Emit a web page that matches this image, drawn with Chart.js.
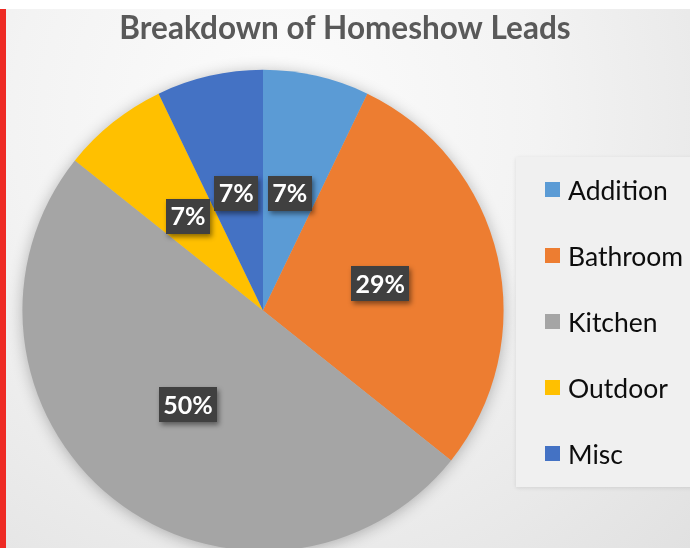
<!DOCTYPE html>
<html>
<head>
<meta charset="utf-8">
<script src="https://cdn.jsdelivr.net/npm/chart.js@4/dist/chart.umd.min.js"></script>
<style>
  html, body { margin:0; padding:0; width:690px; height:548px; overflow:hidden; background:#ffffff; }
  #bg { position:absolute; left:0; top:9px; width:690px; height:539px;
        background: radial-gradient(ellipse at 40% 20%, #fcfcfc 0%, #f3f3f3 45%, #e1e1e1 100%); }
  #redbar { position:absolute; left:0; top:9px; width:6px; height:539px; background:#ee2a24; }
  #wrap { position:absolute; left:0; top:0; width:690px; height:556px; }
</style>
</head>
<body>
<div id="bg"></div>
<div id="redbar"></div>
<div id="wrap"><canvas id="c" width="690" height="556"></canvas></div>
<script>
const categories = ['Addition', 'Bathroom', 'Kitchen', 'Outdoor', 'Misc'];
const leadCounts = [1, 4, 7, 1, 1];
const percentLabels = ['7%', '29%', '50%', '7%', '7%'];
const sliceColors = ['#5B9BD5', '#ED7D31', '#A5A5A5', '#FFC000', '#4472C4'];

const fullWidthTitle = {
  id: 'fullWidthTitle',
  afterLayout(chart) {
    const t = chart.titleBlock;
    if (t) { t.left = 0; t.right = chart.width; t.width = chart.width; }
  }
};

const pieShadow = {
  id: 'pieShadow',
  beforeDatasetsDraw(chart) {
    const arc = chart.getDatasetMeta(0).data[0];
    if (!arc) return;
    const ctx = chart.ctx;
    ctx.save();
    ctx.shadowColor = 'rgba(0,0,0,0.3)';
    ctx.shadowBlur = 16;
    ctx.shadowOffsetX = 0;
    ctx.shadowOffsetY = 2;
    ctx.fillStyle = '#bbbbbb';
    ctx.beginPath();
    ctx.arc(arc.x, arc.y, arc.outerRadius - 1, 0, Math.PI * 2);
    ctx.fill();
    ctx.restore();
  }
};

const boxLabels = {
  id: 'boxLabels',
  afterDatasetsDraw(chart) {
    const ctx = chart.ctx;
    const meta = chart.getDatasetMeta(0);
    ctx.save();
    ctx.font = 'bold 25px Lato';
    ctx.textAlign = 'center';
    ctx.textBaseline = 'middle';
    meta.data.forEach((arc, i) => {
      const p = arc.getCenterPoint();
      const txt = percentLabels[i];
      const w = ctx.measureText(txt).width + 9;
      const h = 35;
      ctx.save();
      ctx.shadowColor = 'rgba(0,0,0,0.45)';
      ctx.shadowBlur = 5;
      ctx.shadowOffsetX = 2;
      ctx.shadowOffsetY = 3;
      ctx.fillStyle = '#404040';
      ctx.fillRect(Math.round(p.x - w / 2), Math.round(p.y - h / 2), Math.round(w), h);
      ctx.restore();
      ctx.fillStyle = '#ffffff';
      ctx.fillText(txt, p.x, p.y + 1);
    });
    ctx.restore();
  }
};

const sideLegend = {
  id: 'sideLegend',
  afterDraw(chart) {
    const ctx = chart.ctx;
    ctx.save();
    ctx.shadowColor = 'rgba(0,0,0,0.10)';
    ctx.shadowBlur = 4;
    ctx.shadowOffsetY = 1;
    ctx.fillStyle = '#f0f0f0';
    ctx.fillRect(516, 157, 180, 330);
    ctx.restore();
    ctx.save();
    ctx.font = '26.5px Lato';
    ctx.textBaseline = 'middle';
    ctx.textAlign = 'left';
    const labels = chart.data.labels;
    const cols = chart.data.datasets[0].backgroundColor;
    labels.forEach((lab, i) => {
      const y = 190 + i * 66;
      ctx.fillStyle = cols[i];
      ctx.fillRect(545, y - 8, 15, 15);
      ctx.fillStyle = '#0d0d0d';
      ctx.fillText(lab, 568, y + 1);
    });
    ctx.restore();
  }
};

new Chart(document.getElementById('c'), {
  type: 'pie',
  data: {
    labels: categories,
    datasets: [{
      data: leadCounts,
      backgroundColor: sliceColors,
      borderWidth: 0
    }]
  },
  options: {
    responsive: false,
    animation: false,
    layout: { padding: { left: 22, right: 186, top: 0, bottom: 5 } },
    plugins: {
      legend: { display: false },
      tooltip: { enabled: false },
      title: {
        display: true,
        text: 'Breakdown of Homeshow Leads',
        color: '#595959',
        font: { family: 'Lato', size: 31.5, weight: 'bold', lineHeight: 1.2 },
        padding: { top: 10, bottom: 22 }
      }
    }
  },
  plugins: [fullWidthTitle, pieShadow, boxLabels, sideLegend]
});
</script>
</body>
</html>
